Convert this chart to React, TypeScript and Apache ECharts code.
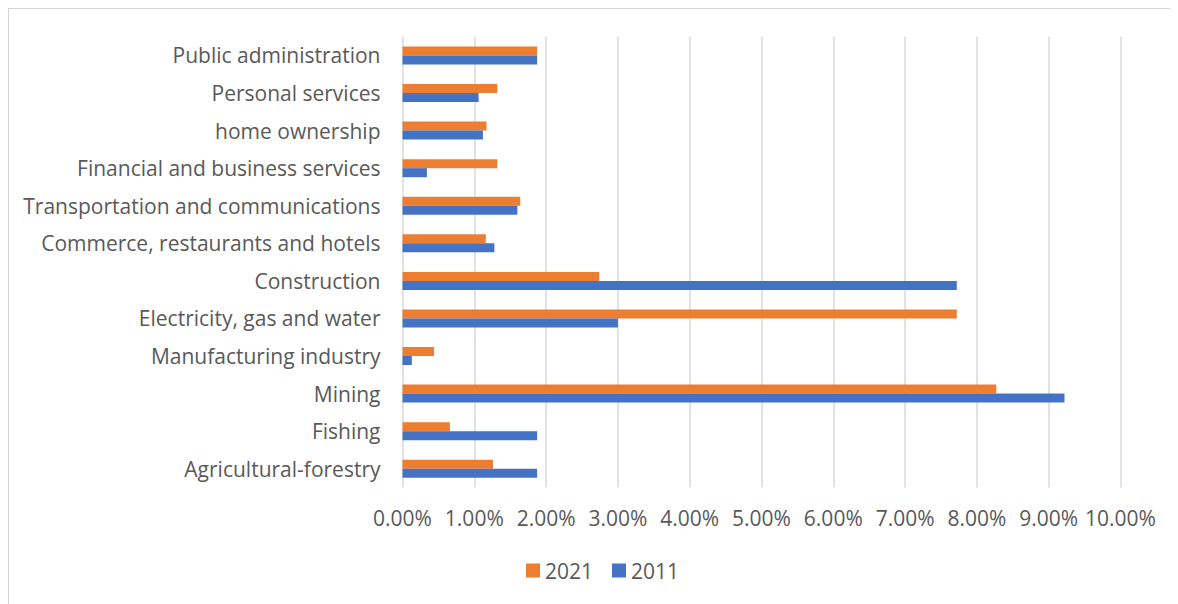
import React, { useEffect, useRef } from "react";
import * as echarts from "echarts";

const categories = [
  "Agricultural-forestry",
  "Fishing",
  "Mining",
  "Manufacturing industry",
  "Electricity, gas and water",
  "Construction",
  "Commerce, restaurants and hotels",
  "Transportation and communications",
  "Financial and business services",
  "home ownership",
  "Personal services",
  "Public administration",
];

const values2021 = [1.26, 0.66, 8.27, 0.44, 7.72, 2.74, 1.16, 1.64, 1.32, 1.17, 1.32, 1.875];
const values2011 = [1.875, 1.875, 9.22, 0.13, 3.0, 7.72, 1.28, 1.6, 0.34, 1.12, 1.06, 1.875];

const seriesNames = ["2021", "2011"];
const colors = ["#ED7D31", "#4472C4"];

const FONT = "'Open Sans', sans-serif";

export default function App() {
  const ref = useRef<HTMLDivElement>(null);

  useEffect(() => {
    document.body.style.overflow = "hidden";
    document.documentElement.style.overflow = "hidden";
    if (!ref.current) return;
    const chart = echarts.init(ref.current, undefined, { renderer: "svg" });
    chart.setOption({
      animation: false,
      textStyle: { fontFamily: FONT },
      legend: {
        data: seriesNames,
        left: 512,
        top: 546,
        itemWidth: 14,
        itemHeight: 14,
        itemGap: 19,
        icon: "rect",
        textStyle: { fontSize: 21, color: "#595959", fontFamily: FONT },
      },
      grid: {
        left: 393.5,
        top: 27.7,
        width: 718,
        height: 450.8,
        containLabel: false,
      },
      xAxis: {
        type: "value",
        min: 0,
        max: 10,
        interval: 1,
        axisLine: { show: false },
        axisTick: { show: false },
        splitLine: { show: true, lineStyle: { color: "#d9d9d9", width: 1.5 } },
        axisLabel: {
          formatter: (v: number) => v.toFixed(2) + "%",
          fontSize: 21,
          color: "#595959",
          fontFamily: FONT,
          margin: 20,
        },
      },
      yAxis: {
        type: "category",
        data: categories,
        axisLine: { show: false },
        axisTick: { show: false },
        splitLine: { show: false },
        axisLabel: {
          fontSize: 21,
          color: "#595959",
          fontFamily: FONT,
          margin: 22,
        },
      },
      series: [
        {
          name: seriesNames[0],
          type: "bar",
          data: values2021,
          barWidth: 9,
          barGap: "0%",
          itemStyle: { color: colors[0] },
        },
        {
          name: seriesNames[1],
          type: "bar",
          data: values2011,
          barWidth: 9,
          barGap: "0%",
          itemStyle: { color: colors[1] },
        },
      ],
    });
    return () => chart.dispose();
  }, []);

  return (
    <div
      style={{
        width: 1200,
        height: 596,
        borderLeft: "1px solid #d4d4d4",
        borderTop: "1px solid #d4d4d4",
        boxSizing: "border-box",
        overflow: "hidden",
        background: "#fff",
      }}
    >
      <div ref={ref} style={{ width: 1169, height: 595 }} />
    </div>
  );
}
